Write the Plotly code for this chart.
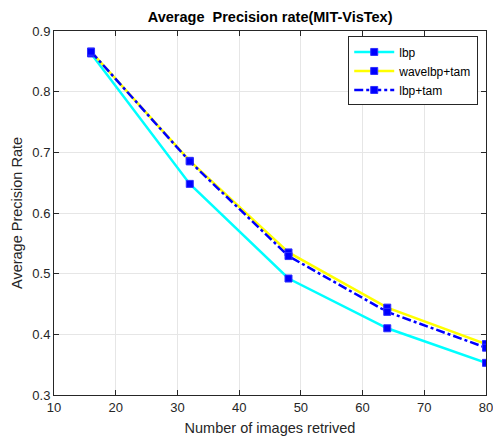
import plotly.graph_objects as go

x_vals = [16, 32, 48, 64, 80]
lbp = [0.863, 0.648, 0.492, 0.410, 0.353]
wavelbp_tam = [0.866, 0.686, 0.535, 0.444, 0.384]
lbp_tam = [0.866, 0.685, 0.529, 0.437, 0.378]

x_ticks = [10, 20, 30, 40, 50, 60, 70, 80]
y_ticks = [0.3, 0.4, 0.5, 0.6, 0.7, 0.8, 0.9]

font = "Liberation Sans, Arial, sans-serif"
marker = dict(symbol="square", size=7, color="#0000ff", line=dict(color="#3030ff", width=1))

fig = go.Figure()
fig.add_trace(go.Scatter(x=x_vals, y=lbp, name="lbp", mode="lines+markers",
                         line=dict(color="#00ffff", width=2.5), marker=marker))
fig.add_trace(go.Scatter(x=x_vals, y=wavelbp_tam, name="wavelbp+tam", mode="lines+markers",
                         line=dict(color="#ffff00", width=2.5), marker=marker))
fig.add_trace(go.Scatter(x=x_vals, y=lbp_tam, name="lbp+tam", mode="lines+markers",
                         line=dict(color="#0000ff", width=2.5, dash="dashdot"), marker=marker))

fig.update_layout(
    width=493, height=436,
    margin=dict(l=54, r=7, t=31, b=41, autoexpand=False),
    paper_bgcolor="white", plot_bgcolor="white",
    font=dict(family=font, size=13, color="#262626"),
    title=dict(text="<b>Average  Precision rate(MIT-VisTex)</b>", x=0.548, xanchor="center",
               y=0.962, yanchor="middle", font=dict(size=14.5, color="black")),
    showlegend=True,
    legend=dict(x=0.982, y=0.985, xanchor="right", yanchor="top",
                bgcolor="white", bordercolor="#262626", borderwidth=1,
                font=dict(size=12, color="black"), tracegroupgap=0,
                itemwidth=40),
    xaxis=dict(range=[10, 80], tickvals=x_ticks, ticks="inside", ticklen=5,
               tickcolor="#262626", showline=True, linecolor="#262626", linewidth=1,
               mirror="ticks", showgrid=True, gridcolor="#e6e6e6", zeroline=False,
               automargin=False, ticklabeloverflow="allow",
               title=dict(text="Number of images retrived", standoff=9, font=dict(size=14.5))),
    yaxis=dict(range=[0.3, 0.9], tickvals=y_ticks, ticks="inside", ticklen=5,
               tickcolor="#262626", showline=True, linecolor="#262626", linewidth=1,
               mirror="ticks", showgrid=True, gridcolor="#e6e6e6", zeroline=False,
               tickformat=".1f", automargin=False, ticklabeloverflow="allow",
               title=dict(text="Average Precision Rate", standoff=6, font=dict(size=14.5))),
)

fig.write_html("out.html", config={"displayModeBar": False})

with open("out.html", "r", encoding="utf-8") as f:
    html = f.read()
html = html.replace("<body>", "<body style=\"margin:0;padding:0;overflow:hidden\">", 1)
with open("out.html", "w", encoding="utf-8") as f:
    f.write(html)
